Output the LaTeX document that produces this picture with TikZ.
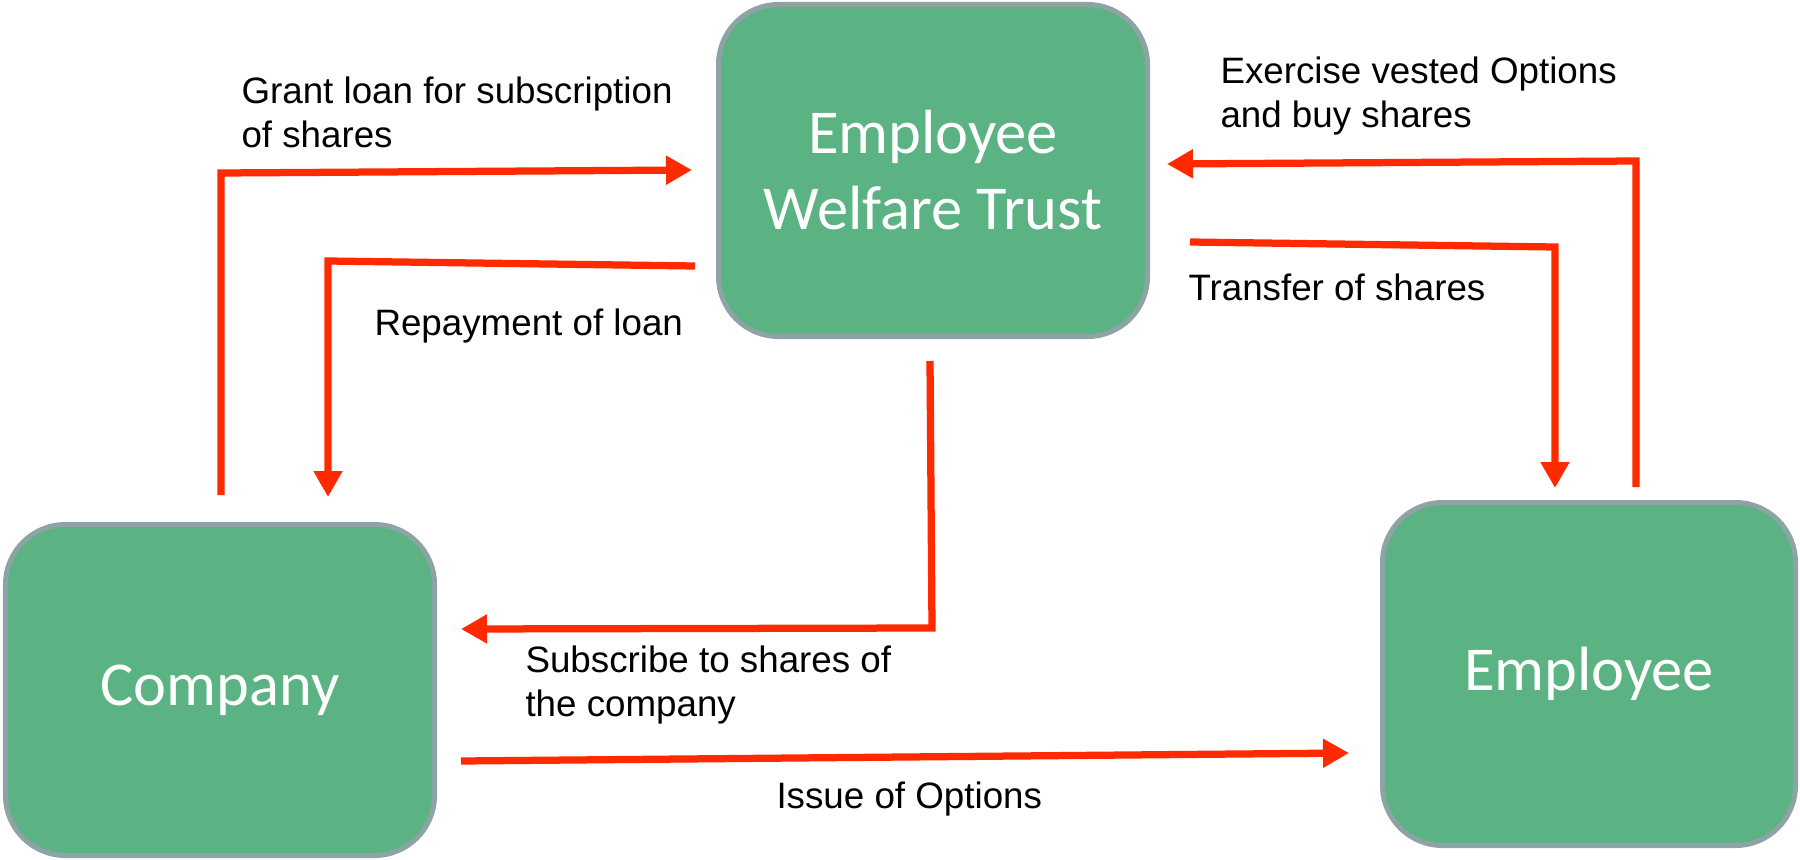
\documentclass[tikz,border=0pt]{standalone}
\usepackage{fontspec}
\setmainfont{Liberation Sans}
\newfontfamily\boxfont{Carlito}
\usetikzlibrary{arrows.meta}
\definecolor{boxgreen}{HTML}{5BB283}
\definecolor{boxedge}{HTML}{8EA3A5}
\definecolor{flowred}{HTML}{FF2A00}
\tikzset{
  party/.style={draw=boxedge, line width=2pt, fill=boxgreen, rounded corners=24pt,
    text=white, font=\boxfont\fontsize{25}{30.4}\selectfont, align=center, inner sep=0pt},
  flow/.style={draw=flowred, line width=2.9pt, line join=miter, -{Triangle[length=10.4pt,width=11pt]}},
  lbl/.style={font=\fontsize{14.7}{17.4}\selectfont, align=left, inner sep=0pt, anchor=base west}
}
\begin{document}
\begin{tikzpicture}[x=0.4pt,y=-0.4pt]
\useasboundingbox (0,0) rectangle (1800,860);
% parties
\node[party, minimum width=171.6pt, minimum height=132.8pt] (ewt) at (933,170.5) {Employee\\Welfare Trust};
\node[party, minimum width=171.6pt, minimum height=132.4pt] (comp) at (220,690) {Company};
\node[party, minimum width=165.2pt, minimum height=137.2pt] (emp) at (1589,674) {Employee};
% connector end points
\coordinate (g0) at (221,495); \coordinate (g1) at (221,173); \coordinate (g2) at (692,170);
\coordinate (r0) at (695,266); \coordinate (r1) at (328,261); \coordinate (r2) at (328,497);
\coordinate (s0) at (930,361); \coordinate (s1) at (932,628); \coordinate (s2) at (461,629);
\coordinate (i0) at (461,761); \coordinate (i1) at (1349,753);
\coordinate (t0) at (1190,242); \coordinate (t1) at (1555,247); \coordinate (t2) at (1555,488);
\coordinate (e0) at (1636,487); \coordinate (e1) at (1636,161); \coordinate (e2) at (1167,164);
% connectors
\draw[flow] (g0) -- (g1) -- (g2);
\draw[flow] (r0) -- (r1) -- (r2);
\draw[flow] (s0) -- (s1) -- (s2);
\draw[flow] (i0) -- (i1);
\draw[flow] (t0) -- (t1) -- (t2);
\draw[flow] (e0) -- (e1) -- (e2);
% labels (base = baseline of the last line)
\node[lbl] (lg) at (241,147) {Grant loan for subscription\\of shares};
\node[lbl] (lr) at (374,335) {Repayment of loan};
\node[lbl] (ls) at (525,716) {Subscribe to shares of\\the company};
\node[lbl] (li) at (776,808) {Issue of Options};
\node[lbl] (lt) at (1188,300) {Transfer of shares};
\node[lbl] (le) at (1220,127) {Exercise vested Options\\and buy shares};
\end{tikzpicture}
\end{document}
